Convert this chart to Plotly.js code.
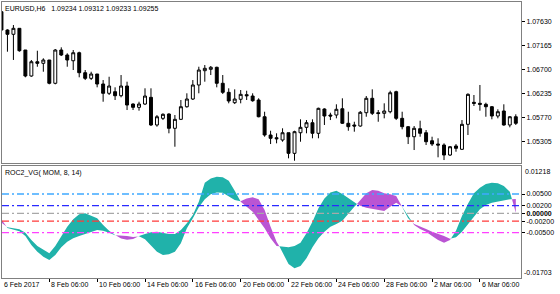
<!DOCTYPE html>
<html>
<head>
<meta charset="utf-8">
<script src="https://cdn.plot.ly/plotly-3.0.1.min.js"></script>
<style>html,body{margin:0;padding:0;background:#fff;}#chart{width:560px;height:294px;}</style>
</head>
<body>
<div id="chart"></div>
<script>
// ---- data (EURUSD H6 candles) ----
const xTickIdx = [0, 8, 16, 24, 32, 40, 48, 56, 64, 72, 80];
const xTickLabels = ['6 Feb 2017', '8 Feb 06:00', '10 Feb 06:00', '14 Feb 06:00', '16 Feb 06:00', '20 Feb 06:00', '22 Feb 06:00', '24 Feb 06:00', '28 Feb 06:00', '2 Mar 06:00', '6 Mar 06:00'];

const openP = [1.07824,1.07469,1.07386,1.07502,1.07082,1.06578,1.06855,1.06824,1.06888,1.06437,
1.07082,1.06985,1.06874,1.07029,1.06642,1.06533,1.06617,1.06423,1.06243,1.06274,
1.06196,1.06384,1.06035,1.05971,1.06035,1.06165,1.05629,1.05758,1.05842,1.05565,
1.05739,1.05983,1.06132,1.06404,1.06681,1.06708,1.06747,1.06437,1.06262,1.06061,
1.06127,1.06216,1.06190,1.06113,1.05789,1.05435,1.05382,1.05338,1.05479,1.05080,
1.05479,1.05584,1.05673,1.05468,1.05939,1.05822,1.05822,1.05944,1.05662,1.05629,
1.05609,1.05867,1.06146,1.05867,1.05855,1.05886,1.06274,1.05758,1.05596,1.05402,
1.05557,1.05479,1.05324,1.05260,1.05241,1.05047,1.05222,1.05158,1.05642,1.06068,
1.06049,1.06030,1.05983,1.05803,1.05900,1.05629,1.05789];
const highP = [1.07847,1.07483,1.07566,1.07502,1.07082,1.06888,1.07068,1.06921,1.06888,1.07101,
1.07134,1.07018,1.07082,1.07049,1.06694,1.06661,1.06617,1.06500,1.06564,1.06359,
1.06597,1.06468,1.06049,1.06080,1.06340,1.06340,1.05822,1.05855,1.05855,1.05822,
1.06113,1.06243,1.06500,1.06758,1.06791,1.06772,1.06758,1.06597,1.06340,1.06320,
1.06307,1.06293,1.06243,1.06146,1.05886,1.05518,1.05468,1.05565,1.05479,1.05518,
1.05739,1.05725,1.05739,1.05964,1.05952,1.05867,1.06030,1.06146,1.05886,1.05692,
1.05900,1.06190,1.06320,1.05919,1.06049,1.06293,1.06293,1.05886,1.05609,1.05609,
1.05712,1.05532,1.05402,1.05371,1.05274,1.05222,1.05260,1.05725,1.06243,1.06210,
1.06404,1.06061,1.05997,1.05933,1.06030,1.05803,1.05836];
const lowP = [1.07450,1.07049,1.06889,1.07049,1.06553,1.06564,1.06758,1.06661,1.06417,1.06417,
1.06965,1.06758,1.06694,1.06553,1.06500,1.06500,1.06359,1.06080,1.06210,1.06113,
1.06165,1.05919,1.05919,1.05906,1.06016,1.05609,1.05596,1.05725,1.05468,1.05208,
1.05725,1.05964,1.06113,1.06243,1.06468,1.06597,1.06359,1.06229,1.06049,1.06035,
1.06049,1.06113,1.06080,1.05778,1.05402,1.05260,1.05274,1.05305,1.04983,1.04937,
1.05305,1.05468,1.05371,1.05371,1.05629,1.05725,1.05758,1.05648,1.05518,1.05499,
1.05596,1.05789,1.05822,1.05692,1.05758,1.05855,1.05725,1.05545,1.05260,1.05144,
1.05402,1.05241,1.05222,1.05003,1.04950,1.05028,1.05111,1.05144,1.05435,1.05997,
1.05906,1.05789,1.05739,1.05758,1.05615,1.05584,1.05629];
const closeP = [1.07469,1.07386,1.07502,1.07068,1.06578,1.06855,1.06824,1.06888,1.06437,1.07082,
1.06985,1.06888,1.07029,1.06642,1.06533,1.06617,1.06423,1.06243,1.06384,1.06196,
1.06384,1.06016,1.05971,1.06035,1.06190,1.05629,1.05789,1.05836,1.05565,1.05739,
1.05983,1.06132,1.06404,1.06694,1.06727,1.06747,1.06437,1.06262,1.06094,1.06132,
1.06223,1.06196,1.06099,1.05789,1.05435,1.05371,1.05363,1.05479,1.05080,1.05499,
1.05584,1.05673,1.05468,1.05952,1.05803,1.05803,1.05933,1.05662,1.05596,1.05609,
1.05875,1.06146,1.05855,1.05851,1.05900,1.06254,1.05758,1.05596,1.05402,1.05565,
1.05468,1.05305,1.05260,1.05241,1.05047,1.05208,1.05177,1.05642,1.06223,1.06049,
1.06030,1.05983,1.05803,1.05886,1.05629,1.05789,1.05662];

// ---- ROC2_VG indicator lines ----
const roc1 = [-0.00241,-0.00362,-0.00387,-0.00413,-0.00499,-0.00689,-0.00844,-0.00947,-0.01033,-0.00844,
-0.00585,-0.00344,-0.00155,-0.00026,0.00000,-0.00069,-0.00129,-0.00301,-0.00448,-0.00560,
-0.00650,-0.00680,-0.00660,-0.00585,-0.00534,-0.00491,-0.00474,-0.00499,-0.00534,-0.00534,
-0.00431,-0.00258,-0.00043,0.00301,0.00792,0.00904,0.00947,0.00930,0.00844,0.00585,
0.00302,0.00172,0.00043,-0.00172,-0.00387,-0.00646,-0.00844,-0.00861,-0.00878,-0.00844,
-0.00758,-0.00517,-0.00215,0.00129,0.00387,0.00542,0.00585,0.00499,0.00387,0.00276,
0.00198,0.00146,0.00112,0.00086,0.00060,0.00172,0.00276,0.00172,-0.00069,-0.00301,
-0.00405,-0.00474,-0.00585,-0.00689,-0.00758,-0.00689,-0.00450,-0.00070,0.00250,0.00520,
0.00660,0.00758,0.00792,0.00775,0.00706,0.00560,0.00017];
const roc2 = [-0.00155,-0.00379,-0.00413,-0.00465,-0.00585,-0.00818,-0.00990,-0.01119,-0.01205,-0.01076,
-0.00878,-0.00732,-0.00646,-0.00585,-0.00534,-0.00474,-0.00431,-0.00448,-0.00499,-0.00568,
-0.00568,-0.00585,-0.00610,-0.00594,-0.00672,-0.00818,-0.00990,-0.01076,-0.01059,-0.00990,
-0.00775,-0.00387,-0.00129,0.00155,0.00362,0.00491,0.00542,0.00534,0.00431,0.00344,
0.00310,0.00387,0.00413,0.00362,0.00086,-0.00344,-0.00732,-0.00990,-0.01309,-0.01421,
-0.01360,-0.01162,-0.00878,-0.00646,-0.00474,-0.00344,-0.00276,-0.00189,0.00000,0.00172,
0.00327,0.00517,0.00603,0.00585,0.00517,0.00491,0.00448,0.00164,-0.00129,-0.00276,
-0.00344,-0.00405,-0.00474,-0.00534,-0.00585,-0.00654,-0.00620,-0.00474,-0.00275,-0.00086,
0.00103,0.00215,0.00275,0.00310,0.00336,0.00362,0.00370];

const levelVals = [0.005, 0.002, 0, -0.002, -0.005];
const levelColors = ['#3FA9FF', '#2A2AFF', '#A8A8A8', '#FF3A3A', '#FF40FF'];
const levelLabels = ['0.00500', '0.00200', '<b>0.00000</b>', '-0.00200', '-0.00500'];
const indMaxLabel = '0.01218';
const indMinLabel = '-0.01703';

const priceTicks = [1.07630, 1.07165, 1.06700, 1.06235, 1.05770, 1.05305];

const headerText = 'EURUSD,H6\u00a0\u00a0 1.09234 1.09312 1.09233 1.09255';
const indName = 'ROC2_VG( MOM, 8, 14)';

const colUp = '#20B2AA';
const colDn = '#BA55D3';

// ---- build ----
const idx = openP.map((_, i) => i);
const xRange = [0.09, 86.87];
const priceRange = [1.04883, 1.08012];
const indRange = [-0.01671, 0.01211];
const FONT = 'Liberation Sans, Arial, sans-serif';

function bands(xs, a, b) {
  const out = [];
  let cur = null;
  for (let i = 0; i < xs.length; i++) {
    const d = a[i] - b[i];
    const s = d >= 0 ? 1 : -1;
    if (!cur) { cur = {s, x: [xs[i]], a: [a[i]], b: [b[i]]}; continue; }
    if (s === cur.s) { cur.x.push(xs[i]); cur.a.push(a[i]); cur.b.push(b[i]); }
    else {
      const dp = a[i-1] - b[i-1];
      const t = dp / (dp - d);
      const xc = xs[i-1] + t * (xs[i] - xs[i-1]);
      const yc = a[i-1] + t * (a[i] - a[i-1]);
      cur.x.push(xc); cur.a.push(yc); cur.b.push(yc);
      out.push(cur);
      cur = {s, x: [xc, xs[i]], a: [yc, a[i]], b: [yc, b[i]]};
    }
  }
  if (cur) out.push(cur);
  return out;
}

const traces = [];
traces.push({
  type: 'candlestick', x: idx, open: openP, high: highP, low: lowP, close: closeP,
  xaxis: 'x', yaxis: 'y', whiskerwidth: 0, hoverinfo: 'skip',
  increasing: {line: {color: '#000', width: 1}, fillcolor: '#fff'},
  decreasing: {line: {color: '#000', width: 1}, fillcolor: '#000'},
  showlegend: false
});
bands(idx, roc1, roc2).forEach(bd => {
  traces.push({
    type: 'scatter', mode: 'lines', xaxis: 'x2', yaxis: 'y2',
    x: bd.x.concat(bd.x.slice().reverse()),
    y: bd.a.concat(bd.b.slice().reverse()),
    fill: 'toself', fillcolor: bd.s > 0 ? colUp : colDn,
    line: {width: 0, color: bd.s > 0 ? colUp : colDn},
    hoverinfo: 'skip', showlegend: false
  });
});

const shapes = levelVals.map((v, k) => ({
  type: 'line', xref: 'x2 domain', yref: 'y2', x0: 0, x1: 1, y0: v, y1: v,
  line: {color: levelColors[k], width: 1.3, dash: '7px,3px,2px,3px'}, layer: 'above'
}));

const annotations = [
  {xref: 'paper', yref: 'paper', x: 0, y: 1, xanchor: 'left', yanchor: 'top', xshift: 1, yshift: -1,
   text: headerText, showarrow: false, font: {family: FONT, size: 7, color: '#000'}},
  {xref: 'paper', yref: 'y2 domain', x: 0, y: 1, xanchor: 'left', yanchor: 'top', xshift: 1, yshift: -1,
   text: indName, showarrow: false, font: {family: FONT, size: 7, color: '#000'}},
  {xref: 'paper', yref: 'y2 domain', x: 1, y: 1, xanchor: 'left', yanchor: 'top', xshift: 2, yshift: 0,
   text: indMaxLabel, showarrow: false, font: {family: FONT, size: 7, color: '#000'}},
  {xref: 'paper', yref: 'y2 domain', x: 1, y: 0, xanchor: 'left', yanchor: 'bottom', xshift: 1, yshift: 0,
   text: indMinLabel, showarrow: false, font: {family: FONT, size: 7, color: '#000'}}
];
xTickIdx.forEach((v, k) => annotations.push({
  xref: 'x2', yref: 'paper', x: Math.max(v, xRange[0]), y: 0, xanchor: 'left', yanchor: 'top', xshift: 0, yshift: -1,
  text: xTickLabels[k], showarrow: false, font: {family: FONT, size: 7, color: '#000'}
}));

const axBase = {showgrid: false, zeroline: false, showline: true, mirror: true,
  linecolor: '#808080', linewidth: 1, fixedrange: true};

const layout = {
  width: 560, height: 294,
  margin: {l: 2, r: 39, t: 2, b: 16, pad: 0},
  paper_bgcolor: '#fff', plot_bgcolor: '#fff',
  showlegend: false, dragmode: false,
  font: {family: FONT, size: 7, color: '#000'},
  xaxis: Object.assign({}, axBase, {domain: [0, 1], range: xRange, anchor: 'y',
    showticklabels: false, ticks: '', rangeslider: {visible: false}}),
  yaxis: Object.assign({}, axBase, {domain: [0.41486, 1], range: priceRange, anchor: 'x', side: 'right',
    tickvals: priceTicks, ticktext: priceTicks.map(v => v.toFixed(5)),
    ticks: 'outside', ticklen: 3, tickcolor: '#000', tickfont: {family: FONT, size: 7, color: '#000'}}),
  xaxis2: Object.assign({}, axBase, {domain: [0, 1], range: xRange, anchor: 'y2',
    tickvals: xTickIdx, showticklabels: false, ticks: 'outside', ticklen: 3, tickcolor: '#000'}),
  yaxis2: Object.assign({}, axBase, {domain: [0, 0.40399], range: indRange, anchor: 'x2', side: 'right',
    tickvals: levelVals, ticktext: levelLabels,
    ticks: 'outside', ticklen: 3, tickcolor: '#000', tickfont: {family: FONT, size: 7, color: '#000'}}),
  shapes: shapes,
  annotations: annotations
};

Plotly.newPlot('chart', traces, layout, {staticPlot: true, displayModeBar: false});
</script>
</body>
</html>
